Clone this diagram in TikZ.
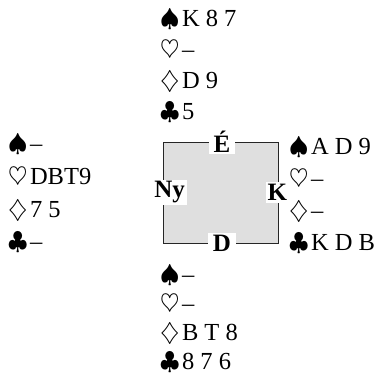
\documentclass[tikz,border=0pt]{standalone}
\usepackage{fontspec}
\setmainfont{Liberation Serif}
\usetikzlibrary{positioning}

\begin{document}
\begin{tikzpicture}[x=1pt, y=-1pt,
  hand/.style={align=left, inner sep=0pt, anchor=base west,
               font=\fontsize{24.5}{#1}\selectfont},
  seat/.style={fill=white, inner xsep=5pt, inner ysep=2pt,
               font=\fontsize{25}{28}\selectfont\bfseries},
  deal/.style={draw=black!85, line width=0.9pt, fill=gray!25,
               minimum width=115pt, minimum height=101pt}
]
\useasboundingbox (0,0) rectangle (376,374);

% the table
\node[deal] (deal) at (220.5,192.5) {};
\node[seat] (north) at ([xshift=1.5pt]deal.north) {É};
\node[seat] (south) at ([xshift=1.5pt]deal.south) {D};
\node[seat, inner xsep=2pt] (west) at ([xshift=7pt]deal.west) {Ny};
\node[seat, inner xsep=2pt] (east) at ([xshift=-1pt]deal.east) {K};

% the hands (anchored at the baseline of the last line)
\node[hand=31.3] (nhand) at (160,120)
  {$\spadesuit$\hspace{2.5pt}K 8 7\\ $\heartsuit$\hspace{2.5pt}--\\
   $\diamondsuit$\hspace{2.5pt}D 9\\ $\clubsuit$\hspace{2.5pt}5};
\node[hand=32.7] (whand) at (8,250)
  {$\spadesuit$\hspace{2.5pt}--\\ $\heartsuit$\hspace{2.5pt}DBT9\\
   $\diamondsuit$\hspace{2.5pt}7 5\\ $\clubsuit$\hspace{2.5pt}--};
\node[hand=32.3] (ehand) at (289,251)
  {$\spadesuit$\hspace{2.5pt}A D 9\\ $\heartsuit$\hspace{2.5pt}--\\
   $\diamondsuit$\hspace{2.5pt}--\\ $\clubsuit$\hspace{2.5pt}K D B};
\node[hand=29] (shand) at (160,369.5)
  {$\spadesuit$\hspace{2.5pt}--\\ $\heartsuit$\hspace{2.5pt}--\\
   $\diamondsuit$\hspace{2.5pt}B T 8\\ $\clubsuit$\hspace{2.5pt}8 7 6};
\end{tikzpicture}
\end{document}
